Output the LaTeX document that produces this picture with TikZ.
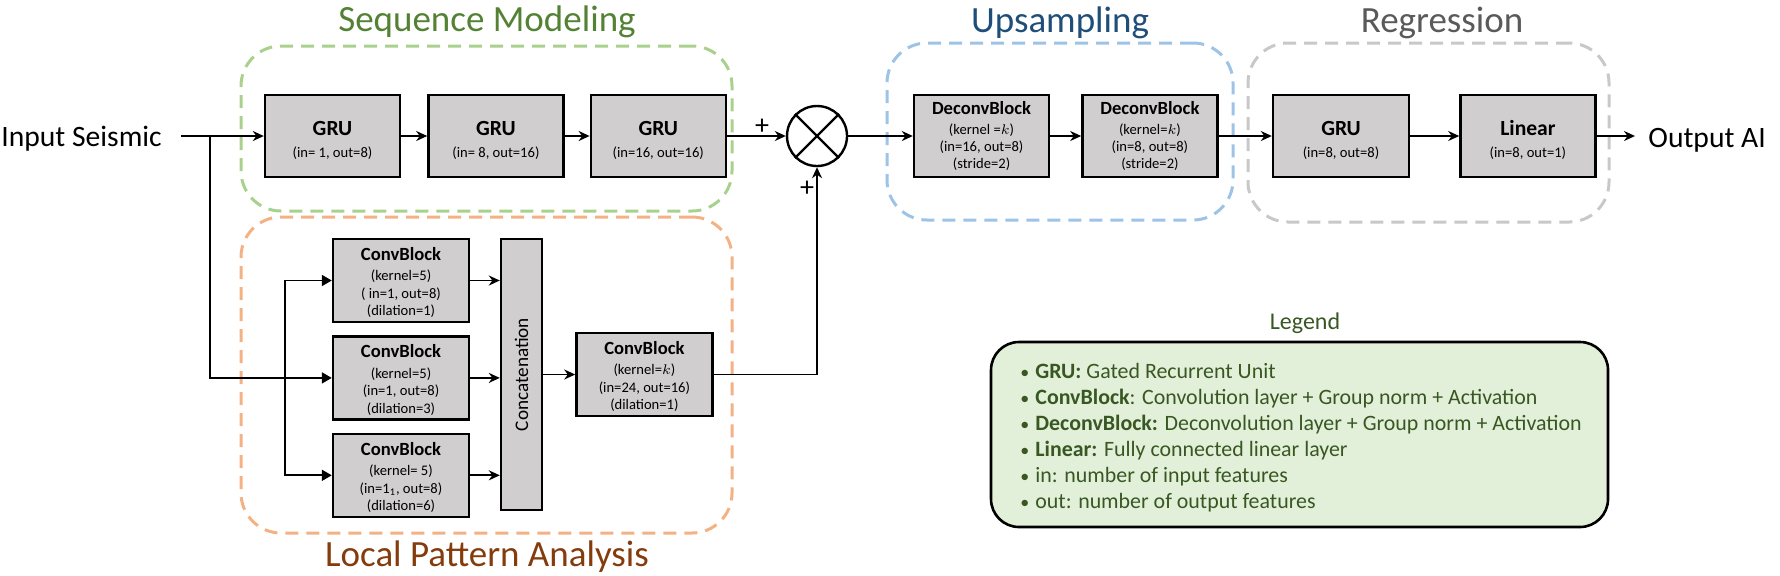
\documentclass[tikz,border=0pt]{standalone}
\usepackage{fontspec}
\setmainfont{Carlito}
\usetikzlibrary{arrows.meta, positioning, calc}

\definecolor{blockGray}{HTML}{D0CECE}
\definecolor{seqGreen}{HTML}{548235}
\definecolor{seqDash}{HTML}{A9D18E}
\definecolor{localBrown}{HTML}{843C0C}
\definecolor{localDash}{HTML}{F4B183}
\definecolor{upBlue}{HTML}{1F4E79}
\definecolor{upDash}{HTML}{9DC3E6}
\definecolor{regGray}{HTML}{5A5A5A}
\definecolor{regDash}{HTML}{C8C8C8}
\definecolor{legendFill}{HTML}{E2F0D9}
\definecolor{legendText}{HTML}{385723}

\newcommand{\blockTitle}[1]{{\fontsize{10.8}{13}\selectfont\bfseries\rule{0pt}{12pt}#1}}
\newcommand{\convTitle}[1]{{\fontsize{9.3}{11}\selectfont\bfseries\rule{0pt}{8.5pt}#1}}
\newcommand{\deconvTitle}[1]{{\fontsize{9.3}{11}\selectfont\bfseries #1}}
\newcommand{\legendDot}{\makebox[7.5pt][l]{\fontsize{9}{9}\selectfont\textbullet}}

\begin{document}
\begin{tikzpicture}[
        x=0.5pt, y=-0.5pt,
        layerBlock/.style={
            rectangle, draw=black, line width=1.2pt, fill=blockGray,
            minimum width=67.5pt, minimum height=41pt, inner sep=0pt,
            align=center, font=\fontsize{7.3}{8.7}\selectfont
        },
        convBlock/.style={
            layerBlock, minimum width=68pt, minimum height=41.5pt
        },
        groupBox/.style={
            rectangle, rounded corners=20pt, line width=1.5pt,
            dash pattern=on 6.5pt off 4pt, inner sep=0pt
        },
        groupTitle/.style={
            anchor=base, inner sep=0pt, font=\fontsize{18.5}{22}\selectfont
        },
        ioText/.style={
            anchor=base west, inner sep=0pt, font=\fontsize{14.8}{18}\selectfont
        },
        plusSign/.style={inner sep=0pt, font=\fontsize{14}{16}\selectfont},
        arrow/.style={
            line width=0.9pt, -{Stealth[length=5.5pt, width=5pt]}
        },
        triArrow/.style={
            line width=0.9pt, -{Triangle[length=5pt, width=5.5pt]}
        }
    ]
        \useasboundingbox (0,0) rectangle (1780,575);

        % Groups
        \node (seqGroup) [groupBox, draw=seqDash, minimum width=245.5pt, minimum height=82.5pt] at (486.5,128.5) {};
        \node (localGroup) [groupBox, draw=localDash, minimum width=245.5pt, minimum height=158pt] at (486.5,375) {};
        \node (upGroup) [groupBox, draw=upDash, minimum width=173pt, minimum height=88.5pt] at (1060,131.5) {};
        \node (regGroup) [groupBox, draw=regDash, minimum width=180.5pt, minimum height=89.5pt] at (1428.5,132.5) {};

        \node (seqTitle) [groupTitle, text=seqGreen] at (487,31) {Sequence Modeling};
        \node (localTitle) [groupTitle, text=localBrown] at (487,566) {Local Pattern Analysis};
        \node (upTitle) [groupTitle, text=upBlue] at (1060,32) {Upsampling};
        \node (regTitle) [groupTitle, text=regGray] at (1442,32) {Regression};

        % Input and output
        \node (input) [ioText] at (1,146) {Input Seismic};
        \node (output) [ioText] at (1648,147) {Output AI};

        % Sequence modeling
        \node (gru1) [layerBlock] at (332.5,136) {\blockTitle{GRU}\\[2.3pt](in= 1, out=8)};
        \node (gru2) [layerBlock, right=13pt of gru1] {\blockTitle{GRU}\\[2.3pt](in= 8, out=16)};
        \node (gru3) [layerBlock, right=12.5pt of gru2] {\blockTitle{GRU}\\[2.3pt](in=16, out=16)};

        % Local pattern analysis
        \node (conv1) [convBlock] at (401,280.5) {\convTitle{ConvBlock}\\[1.5pt](kernel=5)\\( in=1, out=8)\\(dilation=1)};
        \node (conv2) [convBlock, below=6pt of conv1] {\convTitle{ConvBlock}\\[1.5pt](kernel=5)\\(in=1, out=8)\\(dilation=3)};
        \node (conv3) [convBlock, below=6pt of conv2] {\convTitle{ConvBlock}\\[1.5pt](kernel= 5)\\(in=1\textsubscript{1}, out=8)\\(dilation=6)};
        \node (concat) [layerBlock, minimum width=20.5pt, minimum height=135.5pt] at (521.5,374.5) {};
        \node (concatText) [rotate=90, inner sep=0pt, font=\fontsize{9.6}{11}\selectfont] at (concat) {Concatenation};
        \node (convK) [convBlock, right=16pt of concat] {\convTitle{ConvBlock}\\[1.5pt](kernel=$k$)\\(in=24, out=16)\\(dilation=1)};

        % Fusion
        \node (mult) [circle, draw=black, line width=1.2pt, fill=white, minimum size=30pt, inner sep=0pt] at (817,136) {};
        \draw [line width=1.2pt] (mult.north west) -- (mult.south east) (mult.north east) -- (mult.south west);
        \node (plusTop) [plusSign] at (762,127) {+};
        \node (plusBottom) [plusSign] at (807,189) {+};

        % Upsampling and regression
        \node (deconv1) [layerBlock] at (981.5,136) {\deconvTitle{DeconvBlock}\\[1.3pt](kernel =$k$)\\(in=16, out=8)\\(stride=2)};
        \node (deconv2) [layerBlock, right=15.5pt of deconv1] {\deconvTitle{DeconvBlock}\\[1.3pt](kernel=$k$)\\(in=8, out=8)\\(stride=2)};
        \node (gru4) [layerBlock, minimum width=68pt] at (1341,136) {\blockTitle{GRU}\\[2.3pt](in=8, out=8)};
        \node (linear) [layerBlock, right=24.5pt of gru4] {\blockTitle{Linear}\\[2.3pt](in=8, out=1)};

        % Arrows
        \coordinate (split) at (210,136);
        \coordinate (fork) at (285,375);
        \draw [arrow] ([xshift=9.5pt]input.east |- gru1.west) -- (gru1.west);
        \draw [triArrow] (split) |- (conv2.west);
        \draw [triArrow] (fork) |- (conv1.west);
        \draw [triArrow] (fork) |- (conv3.west);
        \draw [arrow] (conv1.east) -- (conv1.east -| concat.west);
        \draw [arrow] (conv2.east) -- (conv2.east -| concat.west);
        \draw [arrow] (conv3.east) -- (conv3.east -| concat.west);
        \draw [arrow] (concat.east |- convK.west) -- (convK.west);
        \draw [arrow] (convK.east) -| (mult.south);
        \draw [arrow] (gru1) -- (gru2);
        \draw [arrow] (gru2) -- (gru3);
        \draw [arrow] (gru3) -- (mult);
        \draw [arrow] (mult) -- (deconv1);
        \draw [arrow] (deconv1) -- (deconv2);
        \draw [arrow] (deconv2) -- (gru4);
        \draw [arrow] (gru4) -- (linear);
        \draw [arrow] (linear.east) -- ([xshift=-6.5pt]output.west |- linear.east);

        % Legend
        \node (legendBox) [rectangle, rounded corners=14pt, draw=black, line width=1.3pt, fill=legendFill, minimum width=308.5pt, minimum height=92.5pt] at (1299.5,434.5) {};
        \node (legendTitle) [inner sep=0pt, text=legendText, font=\fontsize{12}{14}\selectfont] at (1305,323) {Legend};
        \node (legendItems) [anchor=west, align=left, inner sep=0pt, text=legendText, font=\fontsize{10.95}{13}\selectfont] at (1020,438) {%
            \legendDot\textbf{GRU:} Gated Recurrent Unit\\
            \legendDot\textbf{ConvBlock}: Convolution layer + Group norm + Activation\\
            \legendDot\textbf{DeconvBlock:} Deconvolution layer + Group norm + Activation\\
            \legendDot\textbf{Linear:} Fully connected linear layer\\
            \legendDot in: number of input features\\
            \legendDot out: number of output features};
    \end{tikzpicture}
\end{document}
